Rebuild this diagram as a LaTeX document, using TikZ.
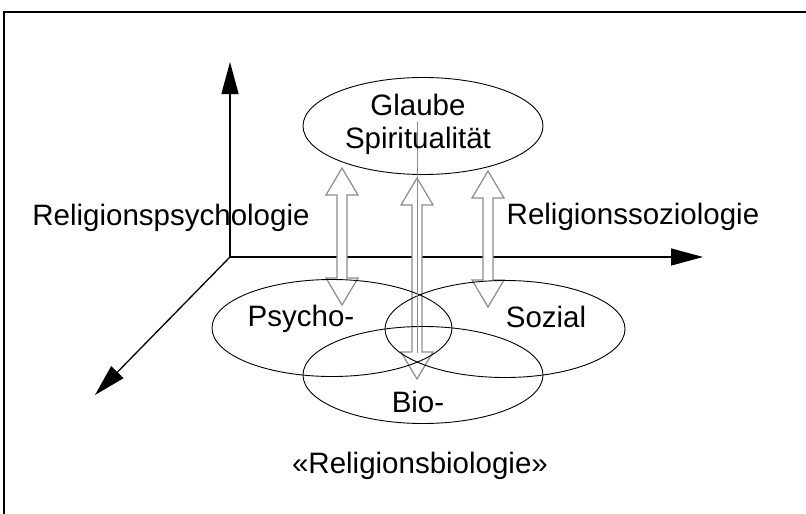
\documentclass[tikz,border=0pt]{standalone}
\usepackage{fontspec}
\setmainfont{Liberation Sans}
\usetikzlibrary{arrows.meta,shapes.geometric}
\newcommand{\hollowdarrow}[4]{%
  % #1 x centre, #2 top tip y, #3 bottom tip y, #4 name
  \draw[harrow] (#1,#2) -- (#1+16,#2+27) -- (#1+5,#2+27) -- (#1+5,#3-27)
    -- (#1+16,#3-27) -- (#1,#3) -- (#1-16,#3-27) -- (#1-5,#3-27)
    -- (#1-5,#2+27) -- (#1-16,#2+27) -- cycle;}
\begin{document}
\begin{tikzpicture}[x=1pt,y=-1pt,
  frameline/.style={line width=1.5pt,black},
  axis/.style={line width=1.3pt,black,-{Triangle[length=32pt,width=17pt]}},
  harrow/.style={line width=1.2pt,draw=black!45,fill=white,line join=miter},
  ell/.style={draw,ellipse,line width=0.9pt,minimum width=240pt,minimum height=97pt,inner sep=0pt},
  lbl/.style={font=\fontsize{29.5}{33}\selectfont,inner sep=0pt,anchor=base},
  ]
\useasboundingbox (0,0) rectangle (806,514);
% frame (open on right and bottom)
\draw[frameline] (806,12) -- (4,12) -- (4,514);
% axes
\coordinate (origin) at (230,257);
\coordinate (ytip) at (230,62);
\coordinate (xtip) at (703,257);
\coordinate (ztip) at (95,395);
\draw[axis] (origin) -- (ytip);
\draw[axis] (origin) -- (xtip);
\draw[axis] (origin) -- (ztip);
% hollow double arrows
\hollowdarrow{342}{168}{305}{aleft}
\hollowdarrow{417}{178}{379}{amid}
\hollowdarrow{488}{171}{307}{aright}
% ellipses
\node[ell] (glaube) at (423,126) {};
\node[ell] (psycho) at (332,328) {};
\node[ell] (sozial) at (505,329) {};
\node[ell] (bio) at (423,375) {};
% thin grey line through the middle arrow
\coordinate (gtop) at (417,122);
\coordinate (gbot) at (417,353);
\draw[line width=0.9pt,black!45] (gtop) -- (gbot);
% labels
\node[font=\fontsize{29.5}{33}\selectfont,align=center,inner sep=0pt] (tglaube) at (418,124) {Glaube\\Spiritualität};
\node[lbl] (tpsy) at (171,225) {Religionspsychologie};
\node[lbl] (tsoz) at (633,224) {Religionssoziologie};
\node[lbl] (tpsycho) at (301,326) {Psycho-};
\node[lbl] (tsozial) at (546,327) {Sozial};
\node[lbl] (tbio) at (418,412) {Bio-};
\node[lbl] (tbiol) at (420,473) {«Religionsbiologie»};
\end{tikzpicture}
\end{document}
